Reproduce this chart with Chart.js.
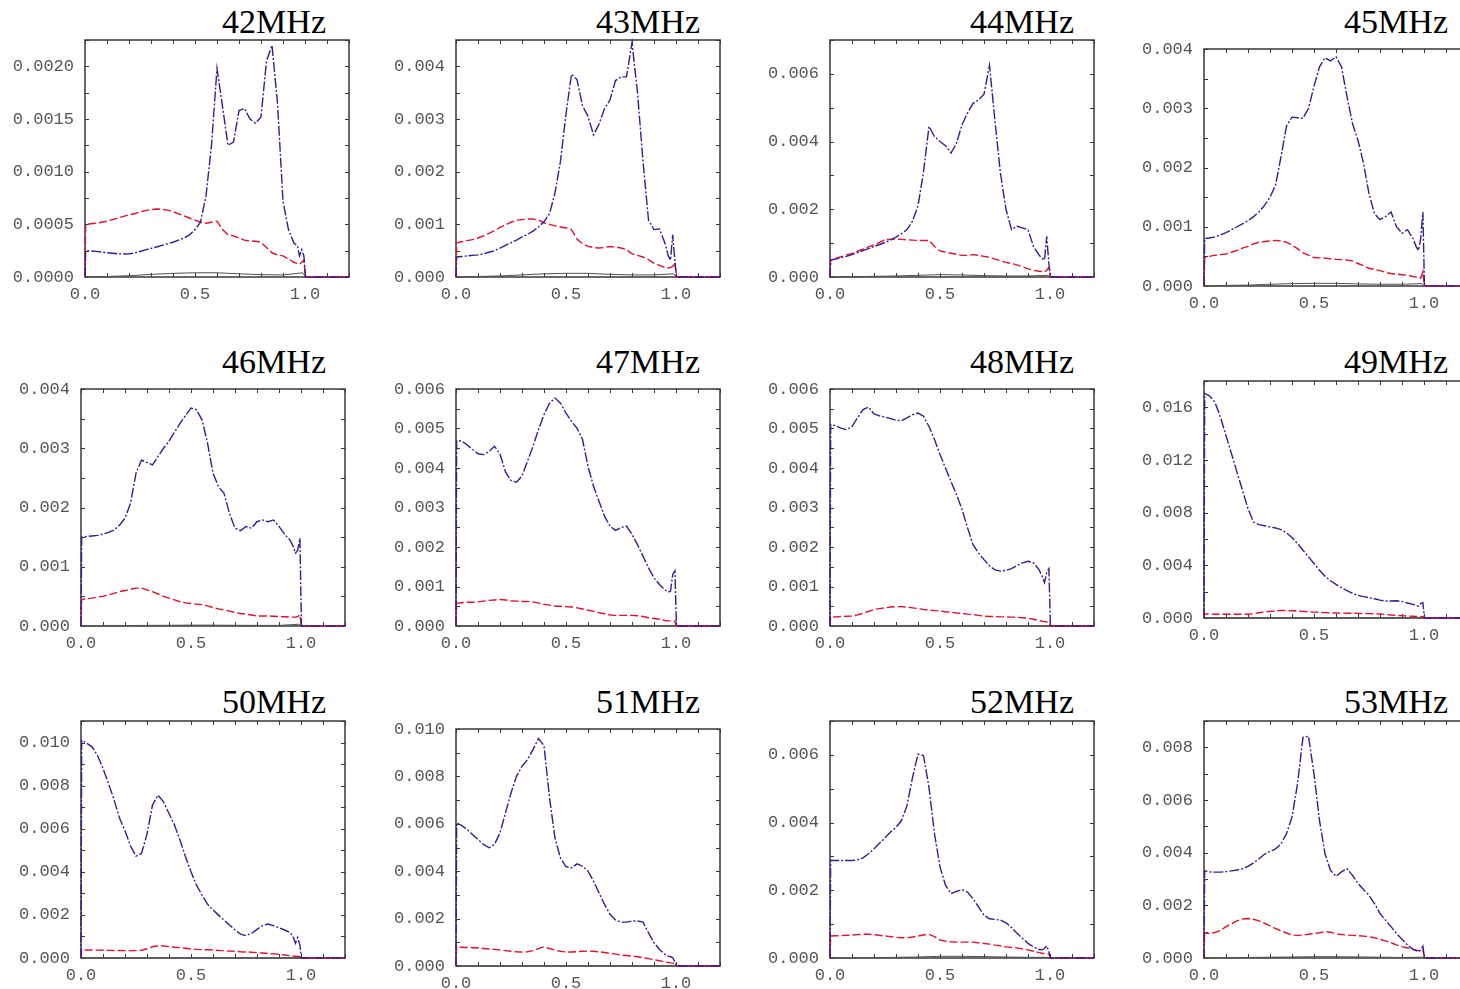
<!DOCTYPE html>
<html>
<head>
<meta charset="utf-8">
<title>42-53 MHz</title>
<script src="https://cdn.jsdelivr.net/npm/chart.js@4.4.0/dist/chart.umd.min.js"></script>
<style>
  html, body { margin: 0; padding: 0; background: #fff; overflow: hidden; }
  body { width: 1460px; height: 989px; position: relative; }
  canvas { position: absolute; }
  .freq {
    position: absolute;
    font-family: "Liberation Serif", "Times New Roman", serif;
    font-size: 34px;
    line-height: 34px;
    color: #000;
    white-space: nowrap;
    text-align: right;
  }
</style>
</head>
<body>
<script>
// panel titles
const freqs = ['42MHz', '43MHz', '44MHz', '45MHz', '46MHz', '47MHz',
               '48MHz', '49MHz', '50MHz', '51MHz', '52MHz', '53MHz'];

// x positions shared by the dash-dot and dashed curves
const xFine = [0, 0.003,
  0.025, 0.05, 0.075, 0.1,
  0.125, 0.15, 0.175, 0.2,
  0.225, 0.25, 0.275, 0.3,
  0.325, 0.35, 0.375, 0.4,
  0.425, 0.45, 0.475, 0.5,
  0.525, 0.55, 0.575, 0.6,
  0.625, 0.65, 0.675, 0.7,
  0.725, 0.75, 0.775, 0.8,
  0.825, 0.85, 0.875, 0.9,
  0.925, 0.95, 0.965, 0.975,
  0.985, 0.995, 1.002, 1.2];

// x positions of the solid curve
const xCoarse = [0, 0.1, 0.2, 0.3, 0.4, 0.5, 0.6, 0.7, 0.8, 0.9, 0.99, 1.002, 1.2];

// y axes: top of the axis, labelled step, minor tick step, decimals
const yMax = [0.00225, 0.0045, 0.007, 0.004, 0.004, 0.006, 0.006, 0.018, 0.011, 0.010, 0.007, 0.009];
const yLabelStep = [0.0005, 0.001, 0.002, 0.001, 0.001, 0.001, 0.001, 0.004, 0.002, 0.002, 0.002, 0.002];
const yTickStep = [0.00025, 0.0005, 0.001, 0.0005, 0.0005, 0.0005, 0.0005, 0.002, 0.001, 0.001, 0.001, 0.001];
const yDecimals = [4, 3, 3, 3, 3, 3, 3, 3, 3, 3, 3, 3];

// x axis ticks
const xTickStep = 0.1;
const xLabelStep = 0.5;

// curve values, in units of 1e-3
const dashDot = [
  [0, 0.25, 0.248, 0.243, 0.237, 0.23, 0.225, 0.22, 0.218, 0.22, 0.228, 0.242, 0.258, 0.272,
   0.285, 0.3, 0.315, 0.33, 0.35, 0.37, 0.4, 0.45, 0.52, 0.77, 1.25, 1.98, 1.62, 1.25, 1.28, 1.58,
   1.6, 1.5, 1.46, 1.52, 2.05, 2.2, 1.65, 0.72, 0.45, 0.32, 0.3, 0.2, 0.26, 0.2, 0, 0],
  [0, 0.38, 0.39, 0.4, 0.41, 0.42, 0.44, 0.47, 0.5, 0.55, 0.6, 0.65, 0.7, 0.76,
   0.81, 0.87, 0.95, 1.05, 1.2, 1.6, 2.2, 3.1, 3.85, 3.75, 3.25, 3.05, 2.7, 2.9, 3.2, 3.36,
   3.73, 3.8, 3.8, 4.45, 3.5, 2.2, 1.08, 0.9, 0.91, 0.64, 0.4, 0.32, 0.8, 0.3, 0, 0],
  [0, 0.5, 0.53, 0.57, 0.61, 0.66, 0.72, 0.78, 0.84, 0.9, 0.96, 1.02, 1.09, 1.18,
   1.28, 1.4, 1.65, 2.1, 3.1, 4.45, 4.15, 4.0, 3.88, 3.66, 3.95, 4.5, 4.84, 5.13, 5.23, 5.4,
   6.25, 4.6, 3.05, 2.0, 1.4, 1.5, 1.45, 1.4, 0.9, 0.65, 0.55, 0.5, 1.2, 0.4, 0, 0],
  [0, 0.8, 0.81, 0.83, 0.86, 0.9, 0.95, 1.0, 1.05, 1.1, 1.17, 1.25, 1.36, 1.5,
   1.7, 2.18, 2.7, 2.85, 2.84, 2.83, 3.0, 3.37, 3.7, 3.85, 3.8, 3.87, 3.7, 3.2, 2.74, 2.46,
   2.07, 1.56, 1.22, 1.12, 1.17, 1.25, 1.0, 0.89, 0.95, 0.8, 0.66, 0.6, 0.8, 1.25, 0, 0],
  [0, 1.5, 1.51, 1.52, 1.53, 1.55, 1.58, 1.62, 1.7, 1.82, 2.07, 2.58, 2.8, 2.76,
   2.72, 2.86, 3.0, 3.12, 3.27, 3.42, 3.55, 3.68, 3.65, 3.48, 3.09, 2.58, 2.35, 2.24, 1.9, 1.65,
   1.61, 1.68, 1.65, 1.76, 1.79, 1.76, 1.79, 1.68, 1.55, 1.45, 1.34, 1.23, 1.28, 1.48, 0, 0],
  [0, 4.7, 4.68, 4.59, 4.47, 4.36, 4.34, 4.42, 4.55, 4.35, 3.9, 3.68, 3.64, 3.8,
   4.17, 4.55, 4.97, 5.35, 5.64, 5.77, 5.64, 5.39, 5.18, 5.01, 4.72, 4.04, 3.54, 3.16, 2.78, 2.53,
   2.42, 2.49, 2.53, 2.32, 2.06, 1.77, 1.47, 1.22, 1.05, 0.91, 0.86, 0.88, 1.3, 1.4, 0, 0],
  [0, 5.1, 5.07, 5.01, 4.97, 5.05, 5.27, 5.48, 5.54, 5.37, 5.32, 5.29, 5.25, 5.21,
   5.2, 5.27, 5.35, 5.39, 5.31, 5.05, 4.72, 4.34, 4.0, 3.66, 3.33, 2.95, 2.49, 2.06, 1.85, 1.68,
   1.52, 1.42, 1.39, 1.41, 1.45, 1.53, 1.6, 1.64, 1.6, 1.43, 1.25, 1.1, 1.35, 1.45, 0, 0],
  [0, 17.06, 16.88, 16.38, 15.24, 13.85, 12.47, 11.08, 9.69, 8.3, 7.29, 7.09, 7.01, 6.91,
   6.84, 6.71, 6.46, 6.11, 5.65, 5.15, 4.64, 4.14, 3.63, 3.18, 2.83, 2.55, 2.3, 2.07, 1.87, 1.72,
   1.62, 1.54, 1.46, 1.36, 1.29, 1.29, 1.31, 1.26, 1.14, 1.03, 0.93, 0.91, 1.11, 1.16, 0, 0],
  [0, 10.11, 9.98, 9.8, 9.4, 8.8, 8.1, 7.35, 6.5, 5.9, 5.2, 4.73, 4.85, 5.75,
   7.1, 7.56, 7.25, 6.71, 6.17, 5.47, 4.7, 4.0, 3.38, 2.92, 2.5, 2.23, 1.99, 1.76, 1.53, 1.3,
   1.11, 1.04, 1.14, 1.33, 1.5, 1.58, 1.5, 1.41, 1.3, 1.19, 0.96, 0.68, 0.95, 0.6, 0, 0],
  [0, 6.04, 5.93, 5.76, 5.55, 5.34, 5.13, 4.99, 5.13, 5.62, 6.46, 7.3, 8.0, 8.43,
   8.71, 9.13, 9.6, 9.3, 7.1, 5.4, 4.55, 4.19, 4.14, 4.31, 4.21, 4.0, 3.58, 3.09, 2.6, 2.18,
   1.94, 1.85, 1.85, 1.9, 1.9, 1.85, 1.4, 0.98, 0.7, 0.49, 0.42, 0.39, 0.35, 0.17, 0, 0],
  [0, 2.88, 2.88, 2.88, 2.88, 2.88, 2.9, 2.96, 3.08, 3.23, 3.39, 3.55, 3.72, 3.86,
   4.06, 4.5, 5.33, 6.02, 5.98, 5.04, 3.67, 2.69, 2.15, 1.9, 1.97, 2.02, 1.95, 1.75, 1.51, 1.26,
   1.16, 1.14, 1.12, 1.04, 0.9, 0.73, 0.58, 0.43, 0.33, 0.25, 0.24, 0.28, 0.36, 0.19, 0, 0],
  [0, 3.31, 3.27, 3.26, 3.26, 3.28, 3.31, 3.34, 3.39, 3.48, 3.61, 3.77, 3.94, 4.05,
   4.14, 4.34, 4.72, 5.35, 6.61, 8.38, 8.42, 6.99, 5.22, 3.96, 3.33, 3.1, 3.27, 3.39, 3.14, 2.83,
   2.6, 2.38, 2.07, 1.69, 1.44, 1.19, 0.93, 0.71, 0.49, 0.33, 0.28, 0.24, 0.3, 0.45, 0, 0]
];

const dashed = [
  [0, 0.5, 0.505, 0.51, 0.52, 0.53, 0.545, 0.56, 0.575, 0.59, 0.6, 0.62, 0.63, 0.64,
   0.645, 0.642, 0.635, 0.62, 0.6, 0.58, 0.56, 0.54, 0.52, 0.51, 0.52, 0.53, 0.45, 0.4, 0.39, 0.37,
   0.35, 0.34, 0.34, 0.33, 0.28, 0.23, 0.21, 0.2, 0.17, 0.14, 0.13, 0.12, 0.14, 0.16, 0, 0],
  [0, 0.65, 0.67, 0.69, 0.71, 0.74, 0.78, 0.83, 0.88, 0.94, 0.99, 1.04, 1.08, 1.09,
   1.1, 1.1, 1.08, 1.03, 1.0, 0.97, 0.95, 0.93, 0.9, 0.72, 0.63, 0.58, 0.56, 0.55, 0.56, 0.58,
   0.57, 0.55, 0.52, 0.44, 0.41, 0.38, 0.33, 0.26, 0.22, 0.18, 0.17, 0.18, 0.2, 0.28, 0, 0],
  [0, 0.5, 0.55, 0.6, 0.65, 0.7, 0.76, 0.82, 0.89, 0.95, 1.02, 1.1, 1.12, 1.12,
   1.11, 1.1, 1.09, 1.08, 1.08, 1.08, 0.9, 0.77, 0.73, 0.7, 0.67, 0.64, 0.64, 0.66, 0.64, 0.61,
   0.58, 0.53, 0.48, 0.43, 0.4, 0.36, 0.3, 0.24, 0.2, 0.17, 0.16, 0.15, 0.2, 0.28, 0, 0],
  [0, 0.48, 0.5, 0.52, 0.53, 0.54, 0.57, 0.6, 0.64, 0.67, 0.71, 0.74, 0.75, 0.76,
   0.77, 0.76, 0.74, 0.69, 0.63, 0.56, 0.52, 0.48, 0.475, 0.47, 0.46, 0.45, 0.445, 0.44, 0.42, 0.38,
   0.34, 0.3, 0.28, 0.26, 0.23, 0.21, 0.2, 0.19, 0.18, 0.16, 0.15, 0.14, 0.13, 0.24, 0, 0],
  [0, 0.45, 0.46, 0.47, 0.49, 0.5, 0.53, 0.55, 0.58, 0.6, 0.62, 0.64, 0.64, 0.61,
   0.58, 0.54, 0.5, 0.47, 0.44, 0.41, 0.39, 0.38, 0.37, 0.36, 0.34, 0.31, 0.29, 0.27, 0.25, 0.23,
   0.21, 0.2, 0.185, 0.17, 0.17, 0.17, 0.165, 0.16, 0.155, 0.15, 0.15, 0.15, 0.16, 0.19, 0, 0],
  [0, 0.58, 0.59, 0.6, 0.6, 0.61, 0.63, 0.65, 0.66, 0.67, 0.66, 0.64, 0.63, 0.62,
   0.62, 0.61, 0.58, 0.55, 0.53, 0.5, 0.5, 0.49, 0.48, 0.46, 0.43, 0.4, 0.37, 0.34, 0.31, 0.28,
   0.27, 0.27, 0.27, 0.27, 0.26, 0.24, 0.21, 0.19, 0.17, 0.14, 0.13, 0.13, 0.13, 0.12, 0, 0],
  [0, 0.22, 0.23, 0.24, 0.245, 0.25, 0.28, 0.32, 0.37, 0.42, 0.44, 0.46, 0.48, 0.49,
   0.49, 0.48, 0.46, 0.44, 0.42, 0.4, 0.39, 0.38, 0.36, 0.35, 0.33, 0.32, 0.3, 0.29, 0.27, 0.25,
   0.24, 0.24, 0.23, 0.23, 0.225, 0.22, 0.21, 0.2, 0.17, 0.14, 0.12, 0.11, 0.1, 0.1, 0, 0],
  [0, 0.3, 0.3, 0.29, 0.29, 0.28, 0.28, 0.28, 0.28, 0.28, 0.32, 0.4, 0.46, 0.5,
   0.54, 0.58, 0.57, 0.55, 0.52, 0.5, 0.47, 0.45, 0.43, 0.41, 0.39, 0.38, 0.37, 0.36, 0.36, 0.35,
   0.34, 0.33, 0.32, 0.3, 0.27, 0.23, 0.2, 0.18, 0.15, 0.13, 0.12, 0.11, 0.1, 0.1, 0, 0],
  [0, 0.37, 0.37, 0.37, 0.365, 0.36, 0.355, 0.35, 0.345, 0.34, 0.34, 0.34, 0.36, 0.43,
   0.52, 0.57, 0.56, 0.53, 0.5, 0.48, 0.45, 0.42, 0.4, 0.39, 0.38, 0.37, 0.35, 0.34, 0.32, 0.31,
   0.29, 0.28, 0.27, 0.25, 0.23, 0.21, 0.19, 0.17, 0.14, 0.11, 0.09, 0.08, 0.07, 0.06, 0, 0],
  [0, 0.8, 0.79, 0.78, 0.77, 0.76, 0.74, 0.72, 0.7, 0.67, 0.65, 0.62, 0.6, 0.59,
   0.6, 0.65, 0.73, 0.81, 0.74, 0.67, 0.62, 0.59, 0.59, 0.6, 0.62, 0.63, 0.62, 0.6, 0.57, 0.53,
   0.5, 0.46, 0.44, 0.42, 0.39, 0.35, 0.31, 0.27, 0.22, 0.17, 0.15, 0.13, 0.12, 0.11, 0, 0],
  [0, 0.65, 0.655, 0.66, 0.67, 0.68, 0.69, 0.7, 0.7, 0.69, 0.67, 0.65, 0.63, 0.61,
   0.6, 0.6, 0.62, 0.65, 0.68, 0.7, 0.63, 0.53, 0.5, 0.48, 0.47, 0.47, 0.47, 0.47, 0.45, 0.43,
   0.41, 0.38, 0.36, 0.33, 0.31, 0.3, 0.27, 0.24, 0.2, 0.16, 0.14, 0.13, 0.12, 0.12, 0, 0],
  [0, 0.96, 0.93, 0.97, 1.05, 1.19, 1.3, 1.41, 1.48, 1.5, 1.47, 1.41, 1.32, 1.22,
   1.12, 1.03, 0.95, 0.87, 0.86, 0.87, 0.9, 0.93, 0.96, 1.0, 0.98, 0.91, 0.89, 0.87, 0.86, 0.85,
   0.83, 0.81, 0.77, 0.71, 0.65, 0.58, 0.5, 0.43, 0.38, 0.33, 0.3, 0.28, 0.26, 0.3, 0, 0]
];

const solid = [
  [0, 0.005, 0.012, 0.025, 0.035, 0.04, 0.04, 0.03, 0.022, 0.02, 0.04, 0, 0],
  [0, 0.01, 0.02, 0.04, 0.06, 0.07, 0.07, 0.05, 0.04, 0.04, 0.06, 0, 0],
  [0, 0.01, 0.02, 0.03, 0.05, 0.07, 0.06, 0.04, 0.03, 0.03, 0.05, 0, 0],
  [0, 0.01, 0.015, 0.03, 0.04, 0.045, 0.045, 0.035, 0.03, 0.03, 0.04, 0, 0],
  [0, 0.005, 0.008, 0.01, 0.012, 0.015, 0.015, 0.012, 0.01, 0.01, 0.03, 0, 0],
  [0, 0.005, 0.005, 0.008, 0.01, 0.01, 0.01, 0.008, 0.006, 0.005, 0.01, 0, 0],
  [0, 0.003, 0.005, 0.007, 0.008, 0.008, 0.008, 0.006, 0.005, 0.005, 0.008, 0, 0],
  [0, 0.01, 0.01, 0.01, 0.015, 0.015, 0.015, 0.01, 0.01, 0.01, 0.02, 0, 0],
  [0, 0.005, 0.005, 0.006, 0.008, 0.008, 0.008, 0.006, 0.005, 0.005, 0.008, 0, 0],
  [0, 0.005, 0.005, 0.006, 0.008, 0.008, 0.008, 0.006, 0.005, 0.005, 0.008, 0, 0],
  [0, 0.005, 0.01, 0.02, 0.03, 0.05, 0.05, 0.04, 0.03, 0.02, 0.02, 0, 0],
  [0, 0.01, 0.02, 0.03, 0.04, 0.05, 0.05, 0.04, 0.03, 0.02, 0.03, 0, 0]
];

// page layout (pixels)
const plotLeft = [85, 456, 830, 1204, 81, 456, 830, 1204, 81, 456, 830, 1204];
const plotTop = [40, 40, 40, 49, 389, 389, 389, 381, 721, 729, 721, 721];
const titleRight = [326, 700, 1074, 1448];
const titleBaseline = [33, 373, 713];
const PLOT_W = 264, PLOT_H = 237;
const AXIS_W = 80, AXIS_H = 30, PAD_T = 12, PAD_R = 8;

const tickFont = { family: '"Liberation Mono", "Courier New", monospace', size: 17 };
const tickColor = '#555';

// frame with inward ticks on all four sides
const framePlugin = {
  id: 'frame',
  beforeDatasetsDraw(chart) {
    const { ctx, chartArea: a, scales } = chart;
    ctx.save();
    ctx.strokeStyle = '#383838';
    ctx.lineWidth = 1;
    ctx.beginPath();
    scales.x.ticks.forEach(t => {
      const px = Math.round(scales.x.getPixelForValue(t.value)) + 0.5;
      ctx.moveTo(px, a.bottom); ctx.lineTo(px, a.bottom - 4);
      ctx.moveTo(px, a.top); ctx.lineTo(px, a.top + 4);
    });
    scales.y.ticks.forEach(t => {
      const py = Math.round(scales.y.getPixelForValue(t.value)) + 0.5;
      ctx.moveTo(a.left, py); ctx.lineTo(a.left + 4, py);
      ctx.moveTo(a.right, py); ctx.lineTo(a.right - 4, py);
    });
    ctx.stroke();
    ctx.lineWidth = 1.5;
    ctx.strokeRect(a.left, a.top, a.right - a.left, a.bottom - a.top);
    ctx.restore();
  }
};

const onStep = (v, step) => {
  const k = v / step;
  return Math.abs(k - Math.round(k)) < 1e-6;
};
const toPoints = (xs, ys) => xs.map((x, i) => ({ x: x, y: ys[i] * 1e-3 }));

freqs.forEach((name, i) => {
  const row = Math.floor(i / 4), col = i % 4;

  // title
  const t = document.createElement('div');
  t.className = 'freq';
  t.textContent = name;
  t.style.right = (1460 - titleRight[col]) + 'px';
  t.style.top = (titleBaseline[row] - 28.5) + 'px';
  document.body.appendChild(t);

  // chart canvas
  const c = document.createElement('canvas');
  c.width = AXIS_W + PLOT_W + PAD_R;
  c.height = PAD_T + PLOT_H + AXIS_H;
  c.style.left = (plotLeft[i] - AXIS_W) + 'px';
  c.style.top = (plotTop[i] - PAD_T) + 'px';
  document.body.appendChild(c);

  new Chart(c, {
    type: 'line',
    data: {
      datasets: [
        { data: toPoints(xFine, dashDot[i]), borderColor: '#3b1a8f', borderWidth: 1.4,
          borderDash: [10, 2, 2, 2], pointRadius: 0, tension: 0, clip: 3 },
        { data: toPoints(xFine, dashed[i]), borderColor: '#e3102e', borderWidth: 1.4,
          borderDash: [8, 3], pointRadius: 0, tension: 0, clip: 3 },
        { data: toPoints(xCoarse, solid[i]), borderColor: '#505050', borderWidth: 1,
          pointRadius: 0, tension: 0, clip: 3 }
      ]
    },
    options: {
      responsive: false,
      animation: false,
      events: [],
      layout: { padding: { left: 0, top: PAD_T, right: PAD_R, bottom: 0 } },
      plugins: { legend: { display: false }, tooltip: { enabled: false } },
      scales: {
        x: {
          type: 'linear', min: 0, max: 1.2,
          grid: { display: false, drawTicks: false },
          border: { display: false },
          afterFit: s => { s.height = AXIS_H; s.paddingLeft = 0; s.paddingRight = 0; },
          ticks: {
            stepSize: xTickStep, autoSkip: false, maxRotation: 0,
            padding: 7, font: tickFont, color: tickColor,
            callback: v => (onStep(v, xLabelStep) && v < 1.1) ? v.toFixed(1) : ''
          }
        },
        y: {
          type: 'linear', min: 0, max: yMax[i],
          grid: { display: false, drawTicks: false },
          border: { display: false },
          afterFit: s => { s.width = AXIS_W; s.paddingTop = 0; s.paddingBottom = 0; },
          ticks: {
            stepSize: yTickStep[i], autoSkip: false,
            padding: 11, font: tickFont, color: tickColor,
            callback: v => onStep(v, yLabelStep[i]) ? v.toFixed(yDecimals[i]) : ''
          }
        }
      }
    },
    plugins: [framePlugin]
  });
});
</script>
</body>
</html>
